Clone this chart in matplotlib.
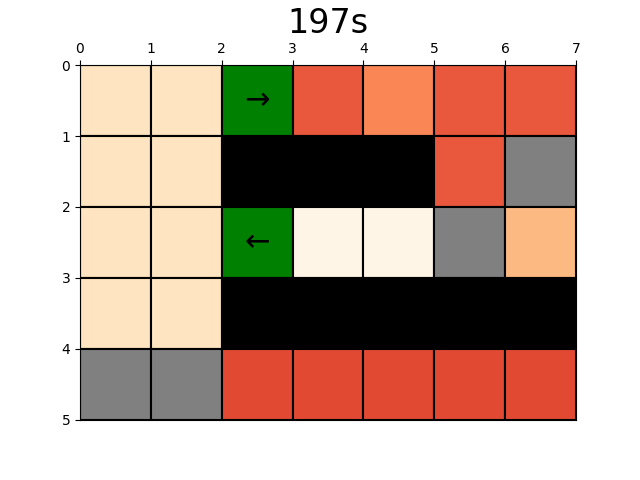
import numpy as np
import matplotlib
matplotlib.use('Agg')
import matplotlib.pyplot as plt
from matplotlib.patches import Rectangle

title = '197s'

# cell kinds: 'v' = valued cell, 'W' = wall, 'X' = blocked (grey), 'G' = goal/arrow cell
kinds = [
    ['v', 'v', 'G', 'v', 'v', 'v', 'v'],
    ['v', 'v', 'W', 'W', 'W', 'v', 'X'],
    ['v', 'v', 'G', 'v', 'v', 'X', 'v'],
    ['v', 'v', 'W', 'W', 'W', 'W', 'W'],
    ['X', 'X', 'v', 'v', 'v', 'v', 'v'],
]

# heat values (0..1) for the valued cells
values = [
    [0.15, 0.15, 0.0, 0.66, 0.52, 0.66, 0.66],
    [0.15, 0.15, 0.0, 0.0, 0.0, 0.66, 0.0],
    [0.15, 0.15, 0.0, 0.02, 0.02, 0.0, 0.38],
    [0.15, 0.15, 0.0, 0.0, 0.0, 0.0, 0.0],
    [0.0, 0.0, 0.69, 0.69, 0.69, 0.69, 0.69],
]

arrows = {(0, 2): '\u2192', (2, 2): '\u2190'}

cmap = plt.get_cmap('OrRd')
special = {'W': 'black', 'X': 'grey', 'G': 'green'}

fig, ax = plt.subplots(figsize=(6.4, 4.8), dpi=100)

n_rows = len(kinds)
n_cols = len(kinds[0])
for r in range(n_rows):
    for c in range(n_cols):
        k = kinds[r][c]
        color = cmap(values[r][c]) if k == 'v' else special[k]
        ax.add_patch(Rectangle((c, r), 1, 1, facecolor=color,
                               edgecolor='black', linewidth=1.5))
        if (r, c) in arrows:
            ax.text(c + 0.5, r + 0.5, arrows[(r, c)], ha='center', va='center',
                    fontsize=22, color='black')

ax.set_xlim(0, n_cols)
ax.set_ylim(n_rows, 0)
ax.set_aspect('equal')
ax.set_xticks(range(n_cols + 1))
ax.set_yticks(range(n_rows + 1))
ax.xaxis.tick_top()
ax.set_title(title, fontsize=24)

fig.savefig('out.png')
